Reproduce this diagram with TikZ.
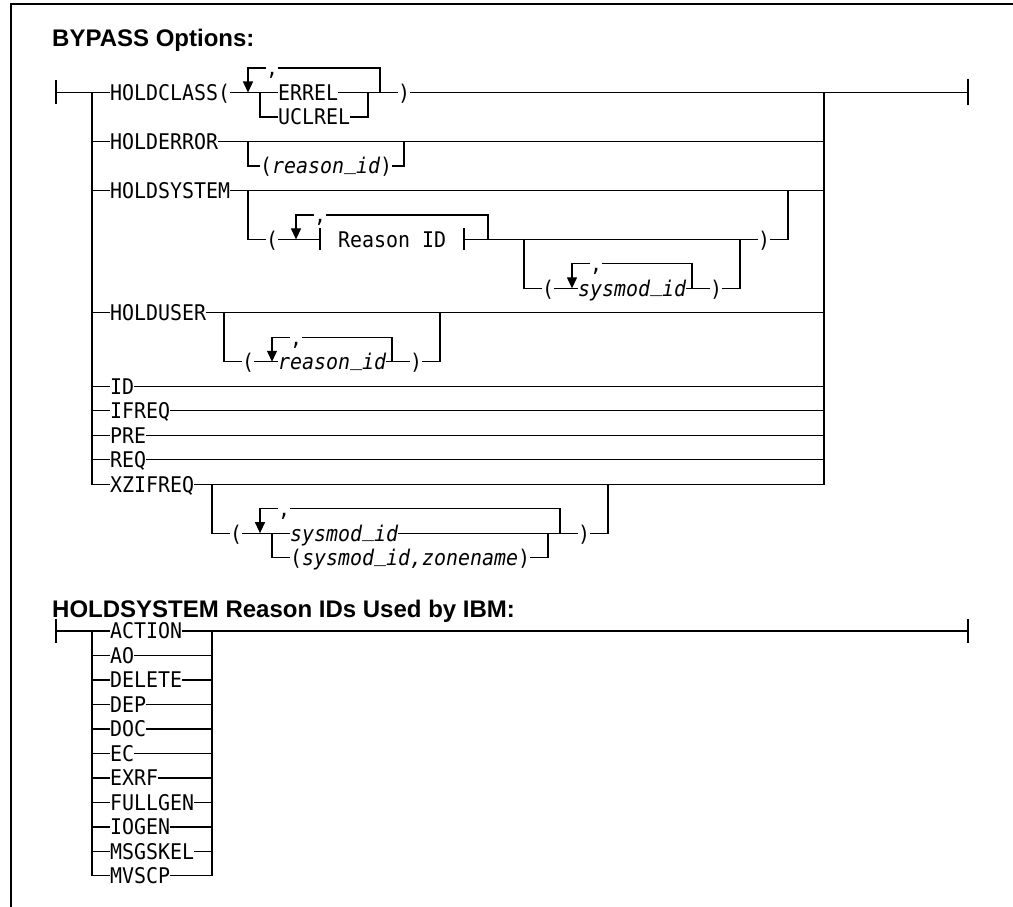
\documentclass[tikz,border=0pt]{standalone}
\usepackage{fontspec}
\newfontfamily\synmono[FakeStretch=0.923]{DejaVu Sans Mono}
\newfontfamily\titlefont{Liberation Sans}
\usetikzlibrary{arrows.meta}
\newcommand\gcx[1]{56+12*(#1)}
\newcommand\gry[1]{92.5+24.48*(#1)}
\newcommand\us{\raisebox{0.2em}{\_}}
\tikzset{
  syn/.style={font=\synmono\fontsize{21.6}{24}\selectfont, inner sep=0pt, outer sep=0pt, anchor=west, text height=18.5pt, text depth=2.75pt},
  ln/.style={line width=1.2pt},
  loopln/.style={ln, -{Triangle[width=10pt,length=11pt]}},
  barln/.style={line width=1.4pt},
  ttl/.style={font=\titlefont\bfseries\fontsize{24}{28}\selectfont, inner sep=0pt, anchor=base west},
  frameln/.style={line width=1.8pt},
}
\begin{document}
\begin{tikzpicture}[x=1pt,y=-1pt]
\useasboundingbox (0,0) rectangle (1013,907);
\fill[white] (0,0) rectangle (1013,907);
% frame
\draw[frameln] (11,907) -- (11,4) -- (1013,4);
% titles
\node[ttl] (t1) at (52,47) {BYPASS Options:};
\node[ttl] (t2) at (52,617) {HOLDSYSTEM Reason IDs Used by IBM:};

% ===== diagram 1 =====
\coordinate (st) at ({\gcx{0}},{\gry{0}});
\coordinate (jl) at ({\gcx{3}},{\gry{0}});
\coordinate (jr) at ({\gcx{64}},{\gry{0}});
\coordinate (en) at ({\gcx{76}},{\gry{0}});
\draw[barln] ([yshift=12pt]st) -- ([yshift=-12pt]st);
\draw[barln] ([yshift=13pt]en) -- ([yshift=-13pt]en);

% HOLDCLASS
\node[syn] (hc) at ({\gcx{5}-6},{\gry{0}}) {HOLDCLASS(};
\node[syn] (errel) at ({\gcx{19}-6},{\gry{0}}) {ERREL};
\node[syn] (uclrel) at ({\gcx{19}-6},{\gry{1}}) {UCLREL};
\node[syn] (hcr) at ({\gcx{29}-6},{\gry{0}}) {)};
\node[syn] (hcc) at ({\gcx{18}-6},{\gry{-1}}) {,};
\coordinate (hca) at ({\gcx{16}},{\gry{0}});
\coordinate (hcat) at ({\gcx{16}},{\gry{-1}});
\coordinate (hclt) at ({\gcx{27}},{\gry{-1}});
\coordinate (hcle) at ({\gcx{27}},{\gry{0}});
\coordinate (hcb) at ({\gcx{17}},{\gry{0}});
\coordinate (hce) at ({\gcx{26}},{\gry{0}});
\draw[ln] (st) -- (jl) -- (hc.west);
\draw[ln] (hc.east) -- (errel.west);
\draw[ln] (errel.east) -- (hcr.west);
\draw[ln] (hcr.east) -- (jr) -- (en);
\draw[ln] (hcb) -- (hcb |- uclrel.west) -- (uclrel.west);
\draw[ln] (uclrel.east) -- (hce |- uclrel.east) -- (hce);
\draw[ln] (hcle) -- (hclt) -- (hcc.east);
\draw[loopln] (hcc.west) -- (hcat) -- (hca);

% HOLDERROR
\node[syn] (he) at ({\gcx{5}-6},{\gry{2}}) {HOLDERROR};
\node[syn] (her) at ({\gcx{17.5}-6},{\gry{3}}) {(\textit{reason\us id})};
\coordinate (heb) at ({\gcx{16}},{\gry{2}});
\coordinate (hee) at ({\gcx{29}},{\gry{2}});
\draw[ln] (jl |- he.west) -- (he.west);
\draw[ln] (he.east) -- (jr |- he.east);
\draw[ln] (heb) -- (heb |- her.west) -- (her.west);
\draw[ln] (her.east) -- (hee |- her.east) -- (hee);

% HOLDSYSTEM
\node[syn] (hs) at ({\gcx{5}-6},{\gry{4}}) {HOLDSYSTEM};
\node[syn] (hsl) at ({\gcx{18}-6},{\gry{6}}) {(};
\node[syn] (rid) at ({\gcx{24}-6},{\gry{6}}) {Reason ID};
\node[syn] (hsc) at ({\gcx{22}-6},{\gry{5}}) {,};
\node[syn] (hsr) at ({\gcx{59}-6},{\gry{6}}) {)};
\node[syn] (sml) at ({\gcx{41}-6},{\gry{8}}) {(};
\node[syn] (sm) at ({\gcx{44}-6},{\gry{8}}) {\textit{sysmod\us id}};
\node[syn] (smc) at ({\gcx{45}-6},{\gry{7}}) {,};
\node[syn] (smr) at ({\gcx{55}-6},{\gry{8}}) {)};
\coordinate (hsb) at ({\gcx{16}},{\gry{4}});
\coordinate (hse) at ({\gcx{61}},{\gry{4}});
\coordinate (ra) at ({\gcx{20}},{\gry{6}});
\coordinate (rat) at ({\gcx{20}},{\gry{5}});
\coordinate (rb1) at ({\gcx{22}},{\gry{6}});
\coordinate (rb2) at ({\gcx{34}},{\gry{6}});
\coordinate (rle) at ({\gcx{36}},{\gry{6}});
\coordinate (rlt) at ({\gcx{36}},{\gry{5}});
\coordinate (smb) at ({\gcx{39}},{\gry{6}});
\coordinate (sme) at ({\gcx{57}},{\gry{6}});
\coordinate (sma) at ({\gcx{43}},{\gry{8}});
\coordinate (smat) at ({\gcx{43}},{\gry{7}});
\coordinate (smle) at ({\gcx{53}},{\gry{8}});
\coordinate (smlt) at ({\gcx{53}},{\gry{7}});
\draw[ln] (jl |- hs.west) -- (hs.west);
\draw[ln] (hs.east) -- (jr |- hs.east);
\draw[ln] (hsb) -- (hsb |- hsl.west) -- (hsl.west);
\draw[ln] (hsl.east) -- (rb1);
\draw[barln] ([yshift=11pt]rb1) -- ([yshift=-11pt]rb1);
\draw[barln] ([yshift=11pt]rb2) -- ([yshift=-11pt]rb2);
\draw[ln] (rb2) -- (hsr.west);
\draw[ln] (hsr.east) -- (hse |- hsr.east) -- (hse);
\draw[ln] (rle) -- (rlt) -- (hsc.east);
\draw[loopln] (hsc.west) -- (rat) -- (ra);
\draw[ln] (smb) -- (smb |- sml.west) -- (sml.west);
\draw[ln] (sml.east) -- (sm.west);
\draw[ln] (sm.east) -- (smr.west);
\draw[ln] (smr.east) -- (sme |- smr.east) -- (sme);
\draw[ln] (smle) -- (smlt) -- (smc.east);
\draw[loopln] (smc.west) -- (smat) -- (sma);

% HOLDUSER
\node[syn] (hu) at ({\gcx{5}-6},{\gry{9}}) {HOLDUSER};
\node[syn] (hul) at ({\gcx{16}-6},{\gry{11}}) {(};
\node[syn] (hur) at ({\gcx{19}-6},{\gry{11}}) {\textit{reason\us id}};
\node[syn] (huc) at ({\gcx{20}-6},{\gry{10}}) {,};
\node[syn] (hurp) at ({\gcx{30}-6},{\gry{11}}) {)};
\coordinate (hub) at ({\gcx{14}},{\gry{9}});
\coordinate (hue) at ({\gcx{32}},{\gry{9}});
\coordinate (hua) at ({\gcx{18}},{\gry{11}});
\coordinate (huat) at ({\gcx{18}},{\gry{10}});
\coordinate (hule) at ({\gcx{28}},{\gry{11}});
\coordinate (hult) at ({\gcx{28}},{\gry{10}});
\draw[ln] (jl |- hu.west) -- (hu.west);
\draw[ln] (hu.east) -- (jr |- hu.east);
\draw[ln] (hub) -- (hub |- hul.west) -- (hul.west);
\draw[ln] (hul.east) -- (hur.west);
\draw[ln] (hur.east) -- (hurp.west);
\draw[ln] (hurp.east) -- (hue |- hurp.east) -- (hue);
\draw[ln] (hule) -- (hult) -- (huc.east);
\draw[loopln] (huc.west) -- (huat) -- (hua);

% simple rows
\foreach \w [count=\i from 12] in {ID,IFREQ,PRE,REQ} {
  \node[syn] (sr\i) at ({\gcx{5}-6},{\gry{\i}}) {\w};
  \draw[ln] (jl |- sr\i.west) -- (sr\i.west);
  \draw[ln] (sr\i.east) -- (jr |- sr\i.east);
}

% XZIFREQ
\node[syn] (xz) at ({\gcx{5}-6},{\gry{16}}) {XZIFREQ};
\node[syn] (xzl) at ({\gcx{15}-6},{\gry{18}}) {(};
\node[syn] (xs) at ({\gcx{20}-6},{\gry{18}}) {\textit{sysmod\us id}};
\node[syn] (xzn) at ({\gcx{20}-6},{\gry{19}}) {(\textit{sysmod\us id,zonename})};
\node[syn] (xzc) at ({\gcx{19}-6},{\gry{17}}) {,};
\node[syn] (xzr) at ({\gcx{44}-6},{\gry{18}}) {)};
\coordinate (xb) at ({\gcx{13}},{\gry{16}});
\coordinate (xe) at ({\gcx{46}},{\gry{16}});
\coordinate (xa) at ({\gcx{17}},{\gry{18}});
\coordinate (xat) at ({\gcx{17}},{\gry{17}});
\coordinate (xcb) at ({\gcx{18}},{\gry{18}});
\coordinate (xce) at ({\gcx{41}},{\gry{18}});
\coordinate (xle) at ({\gcx{42}},{\gry{18}});
\coordinate (xlt) at ({\gcx{42}},{\gry{17}});
\draw[ln] (jl) -- (jl |- xz.west) -- (xz.west);
\draw[ln] (xz.east) -- (jr |- xz.east) -- (jr);
\draw[ln] (xb) -- (xb |- xzl.west) -- (xzl.west);
\draw[ln] (xzl.east) -- (xs.west);
\draw[ln] (xs.east) -- (xzr.west);
\draw[ln] (xzr.east) -- (xe |- xzr.east) -- (xe);
\draw[ln] (xcb) -- (xcb |- xzn.west) -- (xzn.west);
\draw[ln] (xzn.east) -- (xce |- xzn.east) -- (xce);
\draw[ln] (xle) -- (xlt) -- (xzc.east);
\draw[loopln] (xzc.west) -- (xat) -- (xa);

% ===== diagram 2 =====
\coordinate (st2) at ({\gcx{0}},{\gry{22}});
\coordinate (jl2) at ({\gcx{3}},{\gry{22}});
\coordinate (jr2) at ({\gcx{13}},{\gry{22}});
\coordinate (en2) at ({\gcx{76}},{\gry{22}});
\draw[barln] ([yshift=12pt]st2) -- ([yshift=-12pt]st2);
\draw[barln] ([yshift=12pt]en2) -- ([yshift=-12pt]en2);
\foreach \w [count=\i from 0] in {ACTION,AO,DELETE,DEP,DOC,EC,EXRF,FULLGEN,IOGEN,MSGSKEL,MVSCP} {
  \node[syn] (hr\i) at ({\gcx{5}-6},{\gry{22+\i}}) {\w};
  \draw[ln] (jl2 |- hr\i.west) -- (hr\i.west);
  \draw[ln] (hr\i.east) -- (jr2 |- hr\i.east);
}
\draw[ln] (st2) -- (jl2) -- (jl2 |- hr10.west);
\draw[ln] (jr2 |- hr10.east) -- (jr2) -- (en2);
\end{tikzpicture}
\end{document}
